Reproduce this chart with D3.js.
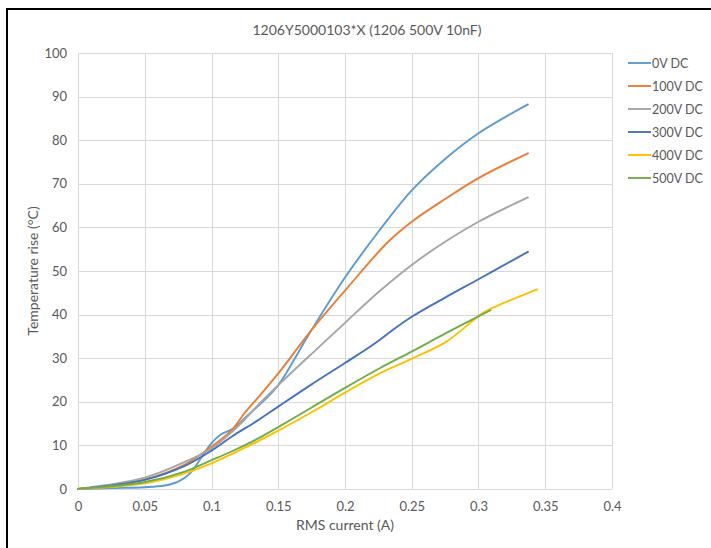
<!DOCTYPE html>
<html>
<head>
<meta charset="utf-8">
<script src="https://cdn.jsdelivr.net/npm/d3@7"></script>
<style>
  html, body { margin: 0; padding: 0; background: #fff; }
  svg { display: block; font-family: Lato, "Open Sans", sans-serif; }
</style>
</head>
<body>
<script>
// Temperature rise vs RMS current, one curve per DC bias
const seriesNames = ["0V DC", "100V DC", "200V DC", "300V DC", "400V DC", "500V DC"];
const seriesColors = ["#5B9BD5", "#ED7D31", "#A5A5A5", "#4472C4", "#FFC000", "#70AD47"];

const current0V = [0, 0.025, 0.05, 0.065, 0.075, 0.084, 0.093, 0.1, 0.107, 0.116, 0.125, 0.14, 0.15, 0.175, 0.2, 0.225, 0.25, 0.275, 0.3, 0.337];
const temp0V    = [0, 0.2, 0.4, 0.8, 1.7, 3.6, 7.5, 10.5, 12.5, 13.8, 16.3, 20.5, 23.8, 36.5, 48.5, 59.0, 68.5, 75.7, 81.6, 88.2];

const current100V = [0, 0.05, 0.08, 0.1, 0.115, 0.125, 0.135, 0.15, 0.175, 0.2, 0.232, 0.25, 0.275, 0.3, 0.337];
const temp100V    = [0, 2.2, 5.6, 9.7, 13.5, 17.5, 21.0, 26.5, 36.5, 45.5, 56.6, 61.3, 66.5, 71.3, 77.0];

const current200V = [0, 0.05, 0.08, 0.1, 0.115, 0.125, 0.135, 0.15, 0.175, 0.2, 0.226, 0.25, 0.275, 0.3, 0.337];
const temp200V    = [0, 2.6, 6.2, 9.3, 13.0, 16.0, 19.3, 23.8, 31.0, 38.1, 45.4, 51.4, 56.7, 61.3, 66.9];

const current300V = [0, 0.05, 0.08, 0.1, 0.115, 0.135, 0.15, 0.175, 0.2, 0.222, 0.235, 0.25, 0.275, 0.3, 0.337];
const temp300V    = [0, 2.1, 5.3, 8.8, 12.0, 15.8, 18.9, 24.0, 28.9, 33.3, 36.3, 39.5, 43.9, 48.1, 54.4];

const current400V = [0, 0.05, 0.08, 0.1, 0.115, 0.135, 0.15, 0.175, 0.2, 0.226, 0.251, 0.276, 0.304, 0.32, 0.344];
const temp400V    = [0, 1.3, 3.6, 5.9, 8.0, 11.0, 13.4, 17.6, 22.1, 26.5, 30.0, 33.8, 40.5, 42.8, 45.8];

const current500V = [0, 0.05, 0.08, 0.1, 0.115, 0.135, 0.15, 0.175, 0.2, 0.226, 0.251, 0.276, 0.309];
const temp500V    = [0, 1.6, 4.0, 6.6, 8.6, 11.6, 14.2, 18.7, 23.2, 27.7, 31.7, 35.8, 41.0];

const xTicks = [0, 0.05, 0.1, 0.15, 0.2, 0.25, 0.3, 0.35, 0.4];
const yTicks = [0, 10, 20, 30, 40, 50, 60, 70, 80, 90, 100];

const chartTitle = "1206Y5000103*X (1206 500V 10nF)";
const xTitle = "RMS current (A)";
const yTitle = "Temperature rise (°C)";

const currents = [current0V, current100V, current200V, current300V, current400V, current500V];
const temps = [temp0V, temp100V, temp200V, temp300V, temp400V, temp500V];
const series = seriesNames.map((name, i) => ({
  name, color: seriesColors[i],
  points: currents[i].map((c, j) => ({ x: c, y: temps[i][j] }))
}));

const W = 711, H = 548;
const plot = { left: 78, right: 612, top: 53, bottom: 489 };

const svg = d3.select("body").append("svg").attr("width", W).attr("height", H);

const x = d3.scaleLinear().domain([0, 0.4]).range([plot.left, plot.right]);
const y = d3.scaleLinear().domain([0, 100]).range([plot.bottom, plot.top]);

// outer frame (left and top edges)
svg.append("path")
  .attr("d", `M7,${H} V9 H${W}`)
  .attr("fill", "none").attr("stroke", "#000").attr("stroke-width", 2);

// title
svg.append("text")
  .attr("x", 367).attr("y", 35)
  .attr("text-anchor", "middle")
  .attr("font-size", 14).attr("fill", "#595959")
  .text(chartTitle);

// gridlines
const grid = svg.append("g");
grid.selectAll("line.h").data(yTicks).join("line")
  .attr("x1", plot.left).attr("x2", plot.right)
  .attr("y1", d => Math.round(y(d)) + 0.5).attr("y2", d => Math.round(y(d)) + 0.5)
  .attr("stroke", "#D9D9D9").attr("stroke-width", 1);
grid.selectAll("line.v").data(xTicks).join("line")
  .attr("y1", plot.top).attr("y2", plot.bottom)
  .attr("x1", d => Math.round(x(d)) + 0.5).attr("x2", d => Math.round(x(d)) + 0.5)
  .attr("stroke", "#D9D9D9").attr("stroke-width", 1);

// axes (labels only; gridlines above carry the lines)
const xAxis = svg.append("g")
  .attr("transform", `translate(0,${plot.bottom})`)
  .call(d3.axisBottom(x).tickValues(xTicks).tickSize(0).tickPadding(13).tickFormat(d => d3.format("")(d)));
const yAxis = svg.append("g")
  .attr("transform", `translate(${plot.left},0)`)
  .call(d3.axisLeft(y).tickValues(yTicks).tickSize(0).tickPadding(11));
[xAxis, yAxis].forEach(a => {
  a.select(".domain").remove();
  a.selectAll("text").attr("fill", "#595959").attr("font-size", 13)
    .style("font-family", "Lato, 'Open Sans', sans-serif");
});

// axis titles
svg.append("text")
  .attr("x", 345).attr("y", 530)
  .attr("text-anchor", "middle").attr("font-size", 14).attr("fill", "#595959")
  .text(xTitle);
svg.append("text")
  .attr("transform", `translate(38,${(plot.top + plot.bottom) / 2}) rotate(-90)`)
  .attr("text-anchor", "middle").attr("font-size", 14).attr("fill", "#595959")
  .text(yTitle);

// series lines
const line = d3.line()
  .x(d => x(d.x)).y(d => y(d.y))
  .curve(d3.curveCatmullRom.alpha(0.5));

svg.append("g").selectAll("path").data(series).join("path")
  .attr("d", d => line(d.points))
  .attr("fill", "none")
  .attr("stroke", d => d.color)
  .attr("stroke-width", 1.9)
  .attr("stroke-linejoin", "round")
  .attr("stroke-linecap", "round");

// legend
const legend = svg.append("g").attr("transform", "translate(628,63)");
const item = legend.selectAll("g").data(series).join("g")
  .attr("transform", (d, i) => `translate(0,${i * 23})`);
item.append("line")
  .attr("x1", 0).attr("x2", 23).attr("y1", 0).attr("y2", 0)
  .attr("stroke", d => d.color).attr("stroke-width", 1.9);
item.append("text")
  .attr("x", 24).attr("y", 4.5)
  .attr("font-size", 12.5).attr("fill", "#595959")
  .text(d => d.name);
</script>
</body>
</html>
